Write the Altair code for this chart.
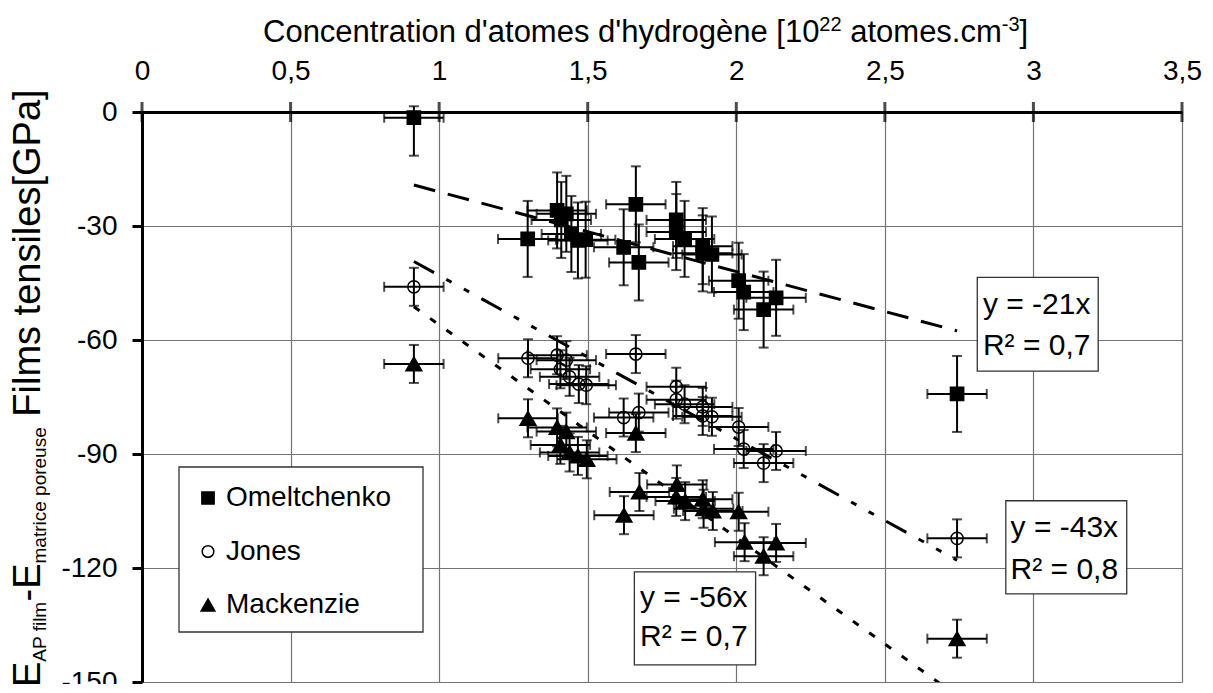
import altair as alt
import pandas as pd

SERIES = ["Omeltchenko", "Jones", "Mackenzie"]

# hydrogen concentration [1e22 at/cm3] and modulus difference [GPa]
omel_x = [0.915, 1.298, 1.397, 1.411, 1.428, 1.445, 1.467, 1.493, 1.621, 1.662, 1.672,
          1.798, 1.798, 1.826, 1.887, 1.887, 1.918, 2.008, 2.025, 2.092, 2.134, 2.743]
omel_y = [-1.5, -33.4, -25.9, -28.4, -26.8, -32.1, -33.8, -33.6, -35.6, -24.3, -39.6,
          -28.4, -31.6, -33.4, -35.3, -37.2, -37.5, -44.4, -47.4, -52.0, -48.9, -74.2]

jones_x = [0.915, 1.299, 1.397, 1.408, 1.428, 1.439, 1.470, 1.495, 1.621, 1.662, 1.672,
           1.798, 1.798, 1.826, 1.887, 1.887, 1.918, 2.008, 2.025, 2.092, 2.134, 2.743]
jones_y = [-46.0, -64.8, -64.0, -67.7, -65.3, -69.7, -71.6, -71.9, -80.4, -63.7, -79.1,
           -72.3, -75.7, -76.9, -77.6, -80.0, -80.2, -82.9, -88.7, -92.4, -89.2, -112.2]

mack_x = [0.915, 1.299, 1.397, 1.408, 1.428, 1.439, 1.467, 1.497, 1.622, 1.662, 1.674,
          1.798, 1.800, 1.828, 1.887, 1.890, 1.921, 2.008, 2.028, 2.092, 2.134, 2.743]
mack_y = [-66.3, -80.6, -83.0, -87.6, -84.1, -89.6, -90.5, -91.4, -106.1, -84.5, -100.0,
          -101.3, -98.0, -102.4, -101.9, -104.4, -105.0, -105.2, -113.2, -116.9, -113.4, -138.6]

x_err = 0.1
y_err = {"Omeltchenko": 10, "Jones": 5, "Mackenzie": 5}
y_err_top_limit = 1.5

slopes = [-21, -43, -56]
r2_text = ["0,7", "0,8", "0,7"]

x_ticks = [0, 0.5, 1, 1.5, 2, 2.5, 3, 3.5]
y_ticks = [-150, -120, -90, -60, -30, 0]

# annotation boxes (data units): Omeltchenko, Jones, Mackenzie
box_x1 = [2.811, 2.907, 1.657]
box_x2 = [3.218, 3.314, 2.065]
box_y1 = [-43.5, -102.3, -121.0]
box_y2 = [-68.2, -126.8, -145.5]
txt_x = [2.830, 2.923, 1.676]
txt_y1 = [-50.8, -109.5, -127.9]
txt_y2 = [-61.6, -120.5, -138.1]

rows = []
for name, xs, ys in zip(SERIES, [omel_x, jones_x, mack_x], [omel_y, jones_y, mack_y]):
    for xv, yv in zip(xs, ys):
        rows.append(dict(series=name, x=xv, y=yv, xlo=xv - x_err, xhi=xv + x_err,
                         ylo=yv - y_err[name], yhi=min(yv + y_err[name], y_err_top_limit)))
df = pd.DataFrame(rows)

trend_rows = []
for name, xs, s in zip(SERIES, [omel_x, jones_x, mack_x], slopes):
    for xv in (min(xs), max(xs)):
        trend_rows.append(dict(series=name, x=xv, y=s * xv))
trend_df = pd.DataFrame(trend_rows)

ann_df = pd.DataFrame(dict(x1=box_x1, x2=box_x2, y1=box_y1, y2=box_y2, tx=txt_x, ty1=txt_y1, ty2=txt_y2,
                           l1=[f"y = {s}x" for s in slopes], l2=[f"R² = {r}" for r in r2_text]))
tick_df = pd.DataFrame(dict(x=x_ticks, y=[0] * len(x_ticks)))

FONT = "Liberation Sans"
xs_ = alt.Scale(domain=[0, 3.5], nice=False, zero=False)
ys_ = alt.Scale(domain=[-150, 0], nice=False, zero=False)

x_axis = alt.Axis(orient="top", values=x_ticks, labelExpr="replace(toString(datum.value), '.', ',')",
                  ticks=False, tickSize=0, labelPadding=27, labelFlush=False, labelOverlap=False,
                  title="", grid=True)
y_axis = alt.Axis(values=y_ticks, labelExpr="replace(toString(datum.value), '.', ',')",
                  tickSize=10, tickWidth=3, tickColor="black", labelPadding=15, labelFlush=False,
                  labelOverlap=False, title="", grid=True)


def X(f):
    return alt.X(f, scale=xs_, axis=x_axis)


def Y(f):
    return alt.Y(f, scale=ys_, axis=y_axis)


EW = 2
base = alt.Chart(df)
h_err = base.mark_rule(color="black", strokeWidth=EW).encode(x=X("xlo:Q"), x2="xhi:Q", y=Y("y:Q"))
v_err = base.mark_rule(color="black", strokeWidth=EW).encode(x=X("x:Q"), y=Y("ylo:Q"), y2="yhi:Q")
cap_lo = base.mark_tick(orient="horizontal", size=10, thickness=EW, color="black").encode(x=X("x:Q"), y=Y("ylo:Q"))
cap_hi = base.mark_tick(orient="horizontal", size=10, thickness=EW, color="black").encode(x=X("x:Q"), y=Y("yhi:Q"))
cap_l = base.mark_tick(orient="vertical", size=10, thickness=EW, color="black").encode(x=X("xlo:Q"), y=Y("y:Q"))
cap_r = base.mark_tick(orient="vertical", size=10, thickness=EW, color="black").encode(x=X("xhi:Q"), y=Y("y:Q"))

shape_map = {"Omeltchenko": "square", "Jones": "circle", "Mackenzie": "triangle-up"}
size_map = {"Omeltchenko": 175, "Jones": 150, "Mackenzie": 250}
fill_map = {"Omeltchenko": "black", "Jones": "transparent", "Mackenzie": "black"}

point_layers = []
for name in SERIES:
    point_layers.append(
        base.transform_filter(alt.datum.series == name)
        .mark_point(shape=shape_map[name], size=size_map[name], filled=True, fill=fill_map[name],
                    stroke="black", strokeWidth=1.5, opacity=1)
        .encode(x=X("x:Q"), y=Y("y:Q"))
    )

dashes = [[22, 13], [23, 14, 6, 14, 6, 14], [7, 13]]
trend_layers = []
for name, d in zip(SERIES, dashes):
    trend_layers.append(
        alt.Chart(trend_df).transform_filter(alt.datum.series == name)
        .mark_line(color="black", strokeWidth=3, strokeDash=d, clip=True, strokeCap="butt")
        .encode(x=X("x:Q"), y=Y("y:Q"))
    )

ticks_x = alt.Chart(tick_df).mark_tick(orient="vertical", size=20, thickness=3, color="black").encode(
    x=X("x:Q"), y=Y("y:Q"))

boxes = alt.Chart(ann_df).mark_rect(fill="white", stroke="#333333", strokeWidth=1.3).encode(
    x=X("x1:Q"), x2="x2:Q", y=Y("y1:Q"), y2="y2:Q")
t1 = alt.Chart(ann_df).mark_text(font=FONT, fontSize=30, align="left", baseline="middle", color="black").encode(
    x=X("tx:Q"), y=Y("ty1:Q"), text="l1:N")
t2 = alt.Chart(ann_df).mark_text(font=FONT, fontSize=30, align="left", baseline="middle", color="black").encode(
    x=X("tx:Q"), y=Y("ty2:Q"), text="l2:N")

one = pd.DataFrame({"k": [0]})

# legend (drawn by hand to match the boxed legend of the source)
legend_layers = [
    alt.Chart(one).mark_rect(fill="white", stroke="#333333", strokeWidth=1.3).encode(
        x=alt.value(37), x2=alt.value(281), y=alt.value(355), y2=alt.value(520))
]
leg_size = {"Omeltchenko": 150, "Jones": 135, "Mackenzie": 190}
for i, name in enumerate(SERIES):
    yy = 386 + i * 53.5
    legend_layers.append(
        alt.Chart(one).mark_point(shape=shape_map[name], size=leg_size[name], filled=True, fill=fill_map[name],
                                  stroke="black", strokeWidth=1.5, opacity=1)
        .encode(x=alt.value(66), y=alt.value(yy))
    )
    legend_layers.append(
        alt.Chart(one).mark_text(font=FONT, fontSize=28, align="left", baseline="middle", color="black")
        .encode(x=alt.value(84), y=alt.value(yy), text=alt.value(name))
    )

# Arial / Liberation Sans advance widths (1/1000 em) for the composite titles
W = {"E": 667, "A": 667, "P": 667, " ": 278, "f": 278, "i": 222, "l": 222, "m": 833, "-": 333,
     "a": 556, "t": 278, "r": 333, "c": 500, "e": 556, "p": 556, "o": 556, "u": 556, "s": 500,
     "F": 611, "n": 556, "[": 278, "G": 778, "]": 278, "C": 722, "'": 191, "d": 556, "h": 556,
     "y": 500, "g": 556, "è": 556, "1": 556, "0": 556, "2": 556, "3": 556, ".": 278}


def tw(s, fs):
    return sum(W[c] for c in s) / 1000 * fs


# composite x-axis title with superscripts (leading spaces become advances: SVG drops them)
XB, XS = 31, 20
x_pieces = [("Concentration d'atomes d'hydrogène [10", XB, -70), ("22", XS, -81), (" atomes.cm", XB, -70),
            ("-3", XS, -81), ("]", XB, -70)]
xtitle_layers = []
xcur = 121.0
for txt, fs, by in x_pieces:
    lead = len(txt) - len(txt.lstrip(" "))
    xcur += tw(" " * lead, fs)
    body = txt.lstrip(" ")
    xtitle_layers.append(
        alt.Chart(one).mark_text(font=FONT, fontSize=fs, align="left", baseline="alphabetic", color="black")
        .encode(x=alt.value(xcur), y=alt.value(by), text=alt.value(body))
    )
    xcur += tw(body, fs)

# composite y-axis title with subscripts
BIG, SMALL = 38, 19
big_base, sub_base = -102, -96
pieces = [("E", BIG, big_base), ("AP film", SMALL, sub_base), ("-E", BIG, big_base),
          ("matrice poreuse", SMALL, sub_base), (" Films tensiles[GPa]", BIG, big_base)]
title_layers = []
ycur = 575.0
for txt, fs, bx in pieces:
    lead = len(txt) - len(txt.lstrip(" "))
    ycur -= tw(" " * lead, fs)
    body = txt.lstrip(" ")
    title_layers.append(
        alt.Chart(one).mark_text(font=FONT, fontSize=fs, angle=270, align="left", baseline="alphabetic",
                                 color="black")
        .encode(x=alt.value(bx), y=alt.value(ycur), text=alt.value(body))
    )
    ycur -= tw(body, fs)

chart = alt.layer(
    h_err, v_err, cap_lo, cap_hi, cap_l, cap_r, *trend_layers, *point_layers, ticks_x, boxes, t1, t2,
    *legend_layers, *xtitle_layers, *title_layers
).properties(
    width=1040, height=570,
    autosize=alt.AutoSizeParams(type="none"),
    padding={"left": 134, "top": 104, "right": 23, "bottom": 2},
).configure_view(stroke=None).configure_axis(
    gridColor="#737373", gridWidth=1.2, domainColor="black", domainWidth=3,
    labelFont=FONT, labelFontSize=28, labelColor="black", titleFont=FONT, titleColor="black",
    titleFontWeight="normal",
)

chart.save("out.html", embed_options={"renderer": "svg", "actions": False})
